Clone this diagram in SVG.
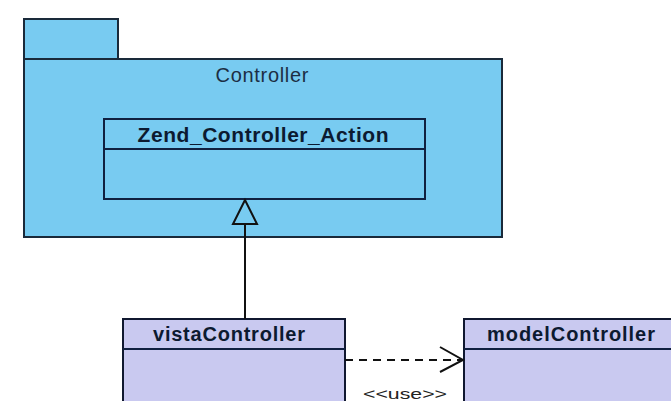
<svg xmlns="http://www.w3.org/2000/svg" width="671" height="401" viewBox="0 0 671 401">
  <style>
    .pkg { fill: #78cbf1; stroke: #1a2a3a; stroke-width: 2; }
    .cls { fill: #78cbf1; stroke: #102040; stroke-width: 2; }
    .cls2 { fill: #c9c9f0; stroke: #101830; stroke-width: 2; }
    .div { stroke: #102040; stroke-width: 2; }
    .title { font-family: "Liberation Sans", Arial, sans-serif; font-weight: bold; fill: #0c1a30; text-anchor: middle; }
    .pkgname { font-family: "Liberation Sans", Arial, sans-serif; font-size: 20px; fill: #1c2e44; text-anchor: middle; }
    .stereo { font-family: "Liberation Sans", Arial, sans-serif; font-size: 15px; fill: #222; text-anchor: middle; }
    .line { stroke: #111; stroke-width: 2; fill: none; }
  </style>
  <rect width="671" height="401" fill="#ffffff"/>

  <!-- Controller package -->
  <g id="controller-package">
    <rect class="pkg" x="24" y="19" width="94" height="40"/>
    <rect class="pkg" x="24" y="59" width="478" height="178"/>
    <text class="pkgname" x="262" y="82" textLength="93" lengthAdjust="spacing">Controller</text>
  </g>

  <!-- Zend_Controller_Action class -->
  <g id="zend-controller-action">
    <rect class="cls" x="104" y="119" width="321" height="80"/>
    <line class="div" x1="104" y1="149" x2="425" y2="149"/>
    <text class="title" x="263" y="142" font-size="21" textLength="251" lengthAdjust="spacing">Zend_Controller_Action</text>
  </g>

  <!-- vistaController class -->
  <g id="vista-controller">
    <rect class="cls2" x="123" y="319" width="222" height="90"/>
    <line class="div" x1="123" y1="349" x2="345" y2="349"/>
    <text class="title" x="229" y="341" font-size="20" textLength="152" lengthAdjust="spacing">vistaController</text>
  </g>

  <!-- modelController class -->
  <g id="model-controller">
    <rect class="cls2" x="464" y="319" width="220" height="90"/>
    <line class="div" x1="464" y1="349" x2="684" y2="349"/>
    <text class="title" x="571" y="341" font-size="20" textLength="168" lengthAdjust="spacing">modelController</text>
  </g>

  <!-- connectors -->
  <g id="connectors">
    <!-- generalization: vistaController -> Zend_Controller_Action -->
    <line class="line" x1="245" y1="319" x2="245" y2="224"/>
    <polygon points="245,200 233,224 257,224" fill="#78cbf1" stroke="#111" stroke-width="2"/>
    <!-- dependency: vistaController uses modelController -->
    <line class="line" x1="345" y1="360" x2="462" y2="360" stroke-dasharray="8,6"/>
    <polyline class="line" points="440,347 463,360 440,372"/>
    <text class="stereo" x="405" y="399" textLength="84" lengthAdjust="spacingAndGlyphs">&lt;&lt;use&gt;&gt;</text>
  </g>
</svg>
